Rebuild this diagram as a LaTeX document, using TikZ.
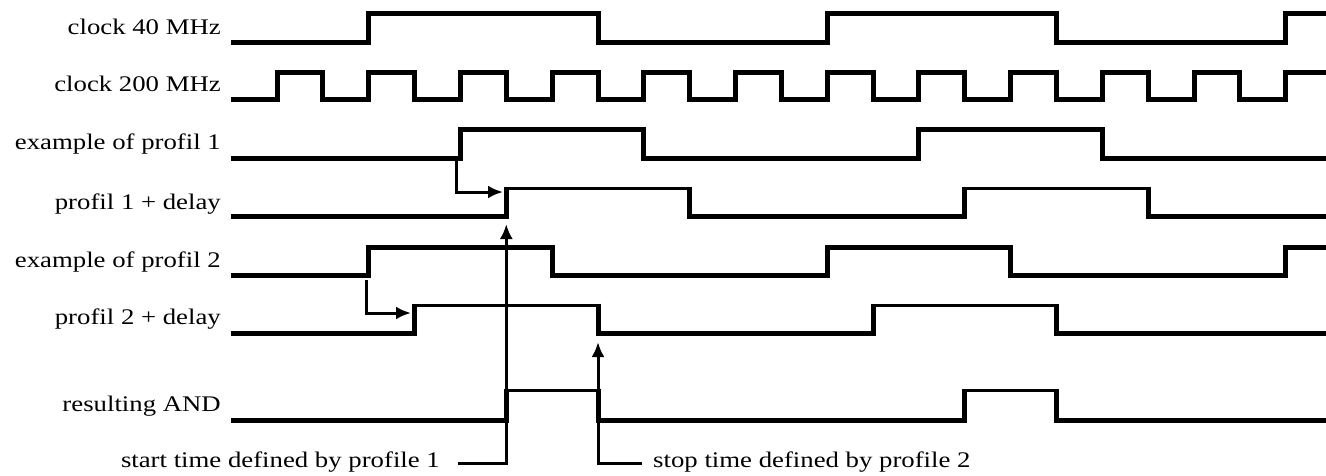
\documentclass[tikz,border=0pt]{standalone}
\usepackage{fontspec}
\setmainfont{Liberation Serif}[FakeStretch=1.2]
\usetikzlibrary{arrows.meta}

\begin{document}
\begin{tikzpicture}[x=1pt,y=-1pt,
  wave/.style={line width=5pt,line join=miter},
  hiwave/.style={line width=3pt,line cap=rect},
  conn/.style={line width=3pt,line join=miter,-{Latex[length=15pt,width=13pt]}},
  sig/.style={anchor=base east,inner sep=0pt,font=\fontsize{22.3}{26}\selectfont},
  note/.style={inner sep=0pt,font=\fontsize{22.3}{26}\selectfont}]

\useasboundingbox (0,0) rectangle (1326,475);

% signal names
\node[sig] (l1) at (221,34)  {clock 40 MHz};
\node[sig] (l2) at (221,91)  {clock 200 MHz};
\node[sig] (l3) at (221,149) {example of profil 1};
\node[sig] (l4) at (221,209) {profil 1 + delay};
\node[sig] (l5) at (221,267) {example of profil 2};
\node[sig] (l6) at (221,324) {profil 2 + delay};
\node[sig] (l7) at (221,411) {resulting AND};

% clock 40 MHz
\draw[wave] (231,42) -- (368.7,42) -- (368.7,13) -- (598,13) -- (598,42) -- (827.2,42) -- (827.2,13) -- (1056.5,13) -- (1056.5,42) -- (1285.7,42) -- (1285.7,13) -- (1330,13);

% clock 200 MHz
\draw[wave] (231,99) -- (277,99) -- (277,72) -- (322.9,72) -- (322.9,99) -- (368.7,99) -- (368.7,72) -- (414.6,72) -- (414.6,99) -- (460.4,99) -- (460.4,72) -- (506.3,72) -- (506.3,99) -- (552.1,99) -- (552.1,72) -- (598,72) -- (598,99) -- (643.8,99) -- (643.8,72) -- (689.7,72) -- (689.7,99) -- (735.5,99) -- (735.5,72) -- (781.4,72) -- (781.4,99) -- (827.2,99) -- (827.2,72) -- (873.1,72) -- (873.1,99) -- (918.9,99) -- (918.9,72) -- (964.8,72) -- (964.8,99) -- (1010.6,99) -- (1010.6,72) -- (1056.5,72) -- (1056.5,99) -- (1102.3,99) -- (1102.3,72) -- (1148.2,72) -- (1148.2,99) -- (1194,99) -- (1194,72) -- (1239.9,72) -- (1239.9,99) -- (1285.7,99) -- (1285.7,72) -- (1330,72);

% example of profil 1
\draw[wave] (231,158) -- (460.4,158) -- (460.4,129) -- (643.8,129) -- (643.8,158) -- (918.9,158) -- (918.9,129) -- (1102.3,129) -- (1102.3,158) -- (1330,158);

% profil 1 + delay
\draw[hiwave] (506.3,188) -- (689.7,188) (964.8,188) -- (1148.2,188);
\draw[wave] (231,216) -- (506.3,216) -- (506.3,186.5)
            (689.7,186.5) -- (689.7,216) -- (964.8,216) -- (964.8,186.5)
            (1148.2,186.5) -- (1148.2,216) -- (1330,216);

% example of profil 2
\draw[wave] (231,275) -- (368.7,275) -- (368.7,247) -- (552.1,247) -- (552.1,275) -- (827.2,275) -- (827.2,247) -- (1010.6,247) -- (1010.6,275) -- (1285.7,275) -- (1285.7,247) -- (1330,247);

% profil 2 + delay
\draw[hiwave] (414.6,305) -- (598,305) (873.1,305) -- (1056.5,305);
\draw[wave] (231,333) -- (414.6,333) -- (414.6,303.5)
            (598,303.5) -- (598,333) -- (873.1,333) -- (873.1,303.5)
            (1056.5,303.5) -- (1056.5,333) -- (1330,333);

% resulting AND
\draw[hiwave] (506.3,390) -- (598,390) (964.8,390) -- (1056.5,390);
\draw[wave] (231,420) -- (506.3,420) -- (506.3,388.5)
            (598,388.5) -- (598,420) -- (964.8,420) -- (964.8,388.5)
            (1056.5,388.5) -- (1056.5,420) -- (1330,420);

% delay arrows
\coordinate (d1a) at (456,160);
\coordinate (d1b) at (503,192);
\draw[conn] (d1a) |- (d1b);
\coordinate (d2a) at (366,280);
\coordinate (d2b) at (411,313);
\draw[conn] (d2a) |- (d2b);

% start / stop markers
\coordinate (stL) at (458,463);
\coordinate (stT) at (506.3,224);
\draw[conn] (stL) -| (stT);
\coordinate (spR) at (642,463);
\coordinate (spT) at (598,342);
\draw[conn] (spR) -| (spT);

\node[note,anchor=base east] (n1) at (440,467) {start time defined by profile 1};
\node[note,anchor=base west] (n2) at (653,467) {stop time defined by profile 2};
\end{tikzpicture}
\end{document}
